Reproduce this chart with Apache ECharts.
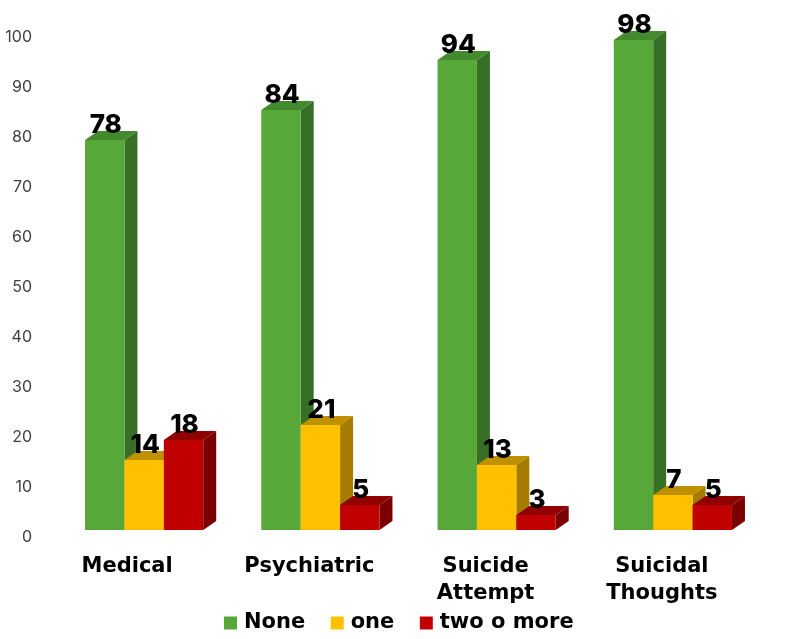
<!DOCTYPE html>
<html><head><meta charset="utf-8">
<style>html,body{margin:0;padding:0;background:#fff}#c{width:791px;height:639px}</style>
<script src="https://cdn.jsdelivr.net/npm/echarts@6/dist/echarts.min.js"></script>
</head><body><div id="c"></div>
<script>
const categories = ['Medical', 'Psychiatric', 'Suicide\nAttempt', 'Suicidal\nThoughts'];
const seriesNames = ['None', 'one', 'two o more'];
const noneValues = [78, 84, 94, 98];
const oneValues = [14, 21, 13, 7];
const twoValues = [18, 5, 3, 5];
const FONT = 'Inter, "Open Sans", sans-serif';
const WIDE = '"DejaVu Sans", sans-serif';
const DEPTH_X = 13, DEPTH_Y = 9, BAR_FRACTION = 0.2235;

function bar3d(slot, front, top, side) {
  return function (params, api) {
    const band = api.size([1, 0])[0];
    const w = band * BAR_FRACTION;
    const p = api.coord([api.value(0), api.value(1)]);
    const base = api.coord([api.value(0), 0]);
    const x0 = p[0] + (slot - 1.5) * w, x1 = x0 + w, yt = p[1], yb = base[1];
    return { type: 'group', children: [
      { type: 'polygon', shape: { points: [[x1, yt], [x1 + DEPTH_X, yt - DEPTH_Y], [x1 + DEPTH_X, yb - DEPTH_Y], [x1, yb]] }, style: { fill: side } },
      { type: 'polygon', shape: { points: [[x0, yt], [x0 + DEPTH_X, yt - DEPTH_Y], [x1 + DEPTH_X, yt - DEPTH_Y], [x1, yt]] }, style: { fill: top } },
      { type: 'rect', shape: { x: x0, y: yt, width: w, height: yb - yt }, style: { fill: front } },
      { type: 'text', z2: 10, style: { x: (x0 + x1) / 2 + 1, y: yt - 15, text: String(api.value(1)), align: 'center', verticalAlign: 'middle', fill: '#000', font: '800 26px ' + FONT } }
    ] };
  };
}
function makeSeries(i, values, front, top, side) {
  return { name: seriesNames[i], type: 'custom', clip: false, z: 2 + i,
    data: values.map((v, k) => [k, v]), encode: { x: 0, y: 1 },
    itemStyle: { color: front }, renderItem: bar3d(i, front, top, side) };
}
const shifts = ['m', 'o', 'o', 'o'];
const chart = echarts.init(document.getElementById('c'), null, { renderer: 'canvas' });
chart.setOption({
  animation: false,
  backgroundColor: '#fff',
  grid: { left: 56, right: 30, top: 30, bottom: 109 },
  legend: { left: 219, top: 607.5, icon: 'rect', itemWidth: 13, itemHeight: 13, itemGap: 25.5,
    data: seriesNames, textStyle: { color: '#000', fontFamily: WIDE, fontWeight: 'bold', fontSize: 21, padding: [0, 0, 0, 2] } },
  xAxis: { type: 'category', data: categories,
    axisLine: { show: false }, axisTick: { show: false },
    axisLabel: { margin: 23, interval: 0, color: '#000', lineHeight: 27,
      fontFamily: WIDE, fontWeight: 'bold', fontSize: 21,
      formatter: (v, i) => v.split('\n').map(s => '{' + shifts[i] + '|' + s + '}').join('\n'),
      rich: {
        m: { fontFamily: WIDE, fontWeight: 'bold', fontSize: 21, lineHeight: 27, color: '#000', padding: [0, 34, 0, 0] },
        o: { fontFamily: WIDE, fontWeight: 'bold', fontSize: 21, lineHeight: 27, color: '#000', padding: [0, 22, 0, 0] }
      } } },
  yAxis: { type: 'value', min: 0, max: 100, interval: 10,
    axisLine: { show: false }, axisTick: { show: false }, splitLine: { show: false },
    axisLabel: { color: '#404040', fontFamily: FONT, fontSize: 16, margin: 24, verticalAlign: 'top', lineHeight: 15 } },
  series: [
    makeSeries(0, noneValues, '#58A839', '#438A2E', '#386F26'),
    makeSeries(1, oneValues, '#FFC000', '#BF9000', '#A67C00'),
    makeSeries(2, twoValues, '#C00000', '#900000', '#7A0000')
  ]
});
</script></body></html>
